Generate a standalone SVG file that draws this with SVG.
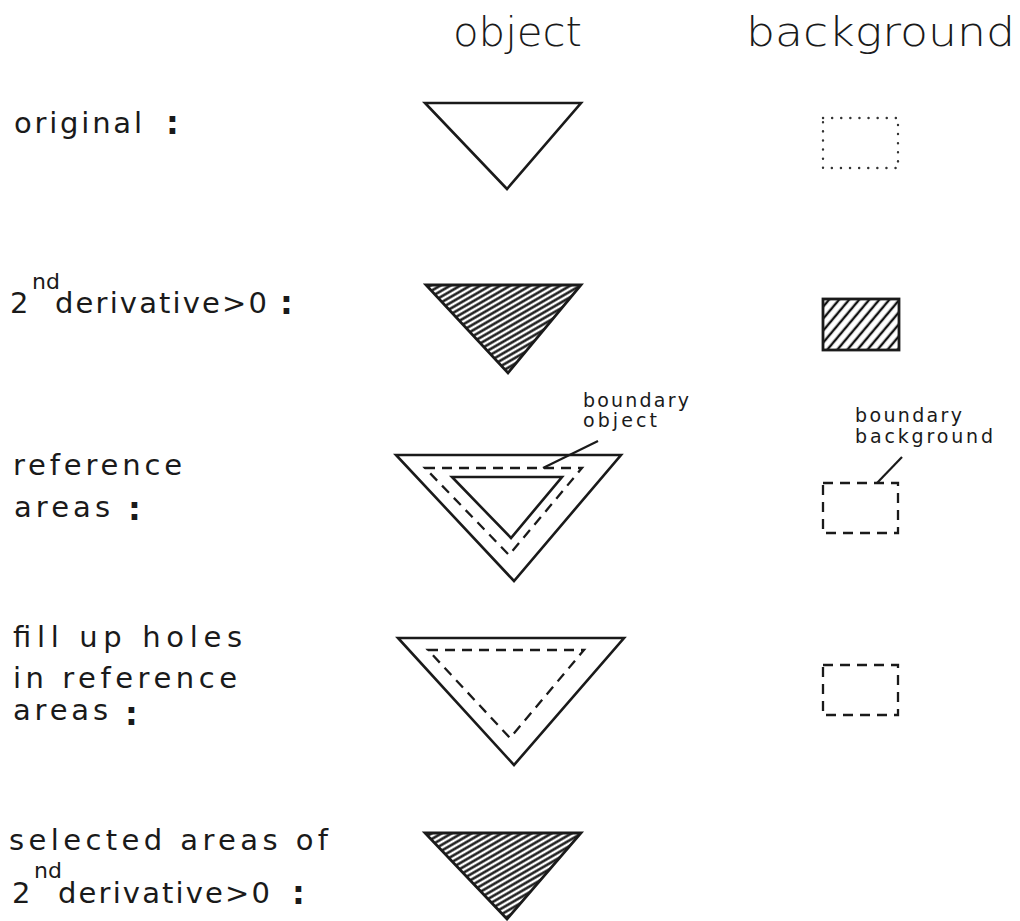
<svg xmlns="http://www.w3.org/2000/svg" width="1020" height="921" viewBox="0 0 1020 921">
<style>
.lbl{font-family:"DejaVu Sans","Liberation Sans",sans-serif;font-size:29px;fill:#1a1a1a}
.sup{font-family:"DejaVu Sans","Liberation Sans",sans-serif;font-size:22px;fill:#1a1a1a}
.col{font-family:"DejaVu Sans","Liberation Sans",sans-serif;font-size:32px;font-weight:bold;fill:#1a1a1a}
.hdr{font-family:"DejaVu Sans","Liberation Sans",sans-serif;font-weight:200;font-size:40px;fill:#1a1a1a}
.small{font-family:"DejaVu Sans","Liberation Sans",sans-serif;font-size:19px;fill:#1a1a1a}
.solid{fill:none;stroke:#1a1a1a;stroke-width:2.6;stroke-linejoin:miter}
.dash{fill:none;stroke:#1a1a1a;stroke-width:2.3;stroke-dasharray:10 7}
.dot{fill:none;stroke:#333;stroke-width:2.4;stroke-dasharray:0.1 9;stroke-linecap:round}
.lead{fill:none;stroke:#1a1a1a;stroke-width:2.2}
.hatchT{fill:url(#hT);stroke:#1a1a1a;stroke-width:2.8}
.hatchR{fill:url(#hR);stroke:#1a1a1a;stroke-width:2.8}
</style>
<defs>
<pattern id="hT" width="20" height="5" patternUnits="userSpaceOnUse" patternTransform="rotate(-30)">
<rect width="20" height="5" fill="#fff"/>
<line x1="0" y1="2.5" x2="20" y2="2.5" stroke="#111" stroke-width="2.4"/>
</pattern>
<pattern id="hR" width="20" height="7.7" patternUnits="userSpaceOnUse" patternTransform="rotate(-50)">
<rect width="20" height="7.7" fill="#fff"/>
<line x1="0" y1="3.8" x2="20" y2="3.8" stroke="#111" stroke-width="2.4"/>
</pattern>
</defs>
<rect width="1020" height="921" fill="#fff"/>

<g id="headers">
<text class="hdr" x="453" y="46" textLength="129" lengthAdjust="spacingAndGlyphs">object</text>
<text class="hdr" x="746" y="46" textLength="269" lengthAdjust="spacingAndGlyphs">background</text>
</g>

<g id="row-labels">
<text class="lbl" x="14" y="133" textLength="128" lengthAdjust="spacing">original</text>
<text class="col" x="166" y="134">:</text>

<text class="lbl" x="10" y="313">2</text>
<text class="sup" x="32" y="289">nd</text>
<text class="lbl" x="55" y="313" textLength="212" lengthAdjust="spacing">derivative&gt;0</text>
<text class="col" x="280" y="314">:</text>

<text class="lbl" x="13" y="475" textLength="169" lengthAdjust="spacing">reference</text>
<text class="lbl" x="14" y="517" textLength="96" lengthAdjust="spacing">areas</text>
<text class="col" x="128" y="520">:</text>

<text class="lbl" x="13" y="647" textLength="229" lengthAdjust="spacing">fill up holes</text>
<text class="lbl" x="13" y="688" textLength="224" lengthAdjust="spacing">in reference</text>
<text class="lbl" x="13" y="720" textLength="95" lengthAdjust="spacing">areas</text>
<text class="col" x="125" y="725">:</text>

<text class="lbl" x="9" y="850" textLength="319" lengthAdjust="spacing">selected areas of</text>
<text class="lbl" x="12" y="903">2</text>
<text class="sup" x="34" y="878">nd</text>
<text class="lbl" x="58" y="903" textLength="212" lengthAdjust="spacing">derivative&gt;0</text>
<text class="col" x="292" y="904">:</text>
</g>

<g id="obj-original">
<polygon class="solid" points="425,103 581,103 507,189"/>
</g>
<g id="bg-original">
<rect class="dot" x="823" y="118" width="75" height="50"/>
</g>

<g id="obj-derivative">
<polygon class="hatchT" points="426,285 581,285 508,373"/>
</g>
<g id="bg-derivative">
<rect class="hatchR" x="823" y="299" width="76" height="51"/>
</g>

<g id="obj-reference">
<polygon class="solid" points="396,455 621,455 514,581"/>
<polygon class="dash" points="425,468 582,468 509,555"/>
<polygon class="solid" points="452,477 562,477 511,538"/>
<text class="small" x="583" y="407" textLength="106" lengthAdjust="spacing">boundary</text>
<text class="small" x="583" y="427" textLength="74" lengthAdjust="spacing">object</text>
</g>
<g id="bg-reference">
<rect class="dash" x="823" y="483" width="75" height="50"/>
<text class="small" x="855" y="422" textLength="107" lengthAdjust="spacing">boundary</text>
<text class="small" x="855" y="443" textLength="138" lengthAdjust="spacing">background</text>
</g>

<g id="obj-fillup">
<polygon class="solid" points="398,638 624,638 514,765"/>
<polygon class="dash" points="428,650 584,650 510,738"/>
</g>
<g id="bg-fillup">
<rect class="dash" x="823" y="665" width="75" height="50"/>
</g>

<g id="obj-selected">
<polygon class="hatchT" points="425,833 581,833 507,919"/>
</g>

<g id="connectors">
<line class="lead" x1="543" y1="468" x2="598" y2="441"/>
<line class="lead" x1="877" y1="483" x2="902" y2="457"/>
</g>
</svg>
